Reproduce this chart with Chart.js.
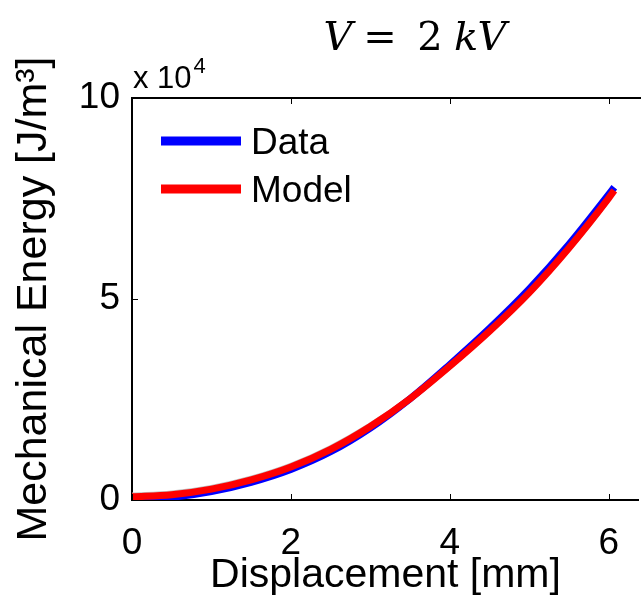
<!DOCTYPE html>
<html>
<head>
<meta charset="utf-8">
<script src="https://cdn.jsdelivr.net/npm/chart.js@4/dist/chart.umd.min.js"></script>
<style>
  html, body { margin: 0; padding: 0; background: #fff; }
  #wrap { width: 641px; height: 598px; position: relative; }
</style>
</head>
<body>
<div id="wrap"><canvas id="energyChart"></canvas></div>
<script>
// displacement in mm, energy in 10^4 J/m^3
const displacement = [0, 0.5, 1, 1.5, 2, 2.5, 3, 3.5, 4, 4.5, 5, 5.5, 6, 6.07];
const dataEnergy   = [0.02, 0.07, 0.21, 0.44, 0.76, 1.2, 1.79, 2.52, 3.37, 4.27, 5.25, 6.36, 7.6, 7.78];
const modelEnergy  = [0.08, 0.13, 0.27, 0.5, 0.82, 1.26, 1.83, 2.52, 3.33, 4.2, 5.16, 6.27, 7.51, 7.7];
const shadeEnergy  = [0.11, 0.16, 0.3, 0.53, 0.85, 1.29, 1.85, 2.53, 3.33, 4.2, 5.16, 6.27, 7.52, 7.76];
const xTicks = [0, 2, 4, 6];
const yTicks = [0, 5, 10];
const legendOrder = ['Data', 'Model'];

const font = "'Liberation Sans', Arial, sans-serif";

const toPoints = ys => displacement.map((x, i) => ({ x, y: ys[i] * 1e4 }));

const matlabBox = {
    id: 'matlabBox',
    afterDraw(chart) {
        const ctx = chart.ctx;
        const a = chart.chartArea;
        const xs = chart.scales.x, ys = chart.scales.y;
        ctx.save();
        ctx.strokeStyle = '#000';
        ctx.lineWidth = 2;
        // top border
        ctx.beginPath();
        ctx.moveTo(a.left, a.top);
        ctx.lineTo(chart.width, a.top);
        ctx.stroke();
        // inward ticks
        ctx.lineWidth = 1;
        ctx.beginPath();
        xTicks.forEach(v => {
            const px = Math.round(xs.getPixelForValue(v)) + 0.5;
            ctx.moveTo(px, a.bottom); ctx.lineTo(px, a.bottom - 6);
            ctx.moveTo(px, a.top); ctx.lineTo(px, a.top + 6);
        });
        yTicks.forEach(v => {
            const py = Math.round(ys.getPixelForValue(v * 1e4)) + 0.5;
            ctx.moveTo(a.left, py); ctx.lineTo(a.left + 6, py);
        });
        ctx.stroke();

        // legend
        ctx.font = '37px ' + font;
        ctx.textBaseline = 'alphabetic';
        ctx.fillStyle = '#000';
        legendOrder.forEach((name, i) => {
            const d = chart.data.datasets.find(ds => ds.label === name);
            const y = 141 + i * 48;
            ctx.strokeStyle = d.borderColor;
            ctx.lineWidth = 9;
            ctx.beginPath();
            ctx.moveTo(161, y); ctx.lineTo(241, y);
            ctx.stroke();
            ctx.fillText(d.label, 251, y + 13);
        });

        // exponent
        ctx.font = '31px ' + font;
        ctx.fillText('x 10', 133, 88);
        const w = ctx.measureText('x 10').width;
        ctx.font = '22px ' + font;
        ctx.fillText('4', 133 + w + 2, 73);

        // title
        const serif = "'DejaVu Serif', 'Liberation Serif', serif";
        ctx.textAlign = 'center';
        ctx.font = 'italic 40px ' + serif;
        ctx.fillText('V', 338, 50);
        ctx.font = '40px ' + serif;
        ctx.fillText('=', 380, 50);
        ctx.fillText('2', 430, 50);
        ctx.font = 'italic 40px ' + serif;
        ctx.fillText('k', 466, 50);
        ctx.fillText('V', 492, 50);
        ctx.restore();
    }
};

new Chart(document.getElementById('energyChart'), {
    type: 'line',
    data: {
        datasets: [
            {
                label: 'Model',
                data: toPoints(modelEnergy),
                borderColor: '#ff0000',
                borderWidth: 7,
                order: 0
            },
            {
                label: 'Data',
                data: toPoints(dataEnergy),
                borderColor: '#0000ff',
                borderWidth: 7,
                order: 1
            },
            {
                label: '',
                data: toPoints(shadeEnergy),
                borderColor: '#c0c0c0',
                borderWidth: 6,
                order: 2
            }
        ].map(d => Object.assign(d, {
            pointRadius: 0,
            fill: false,
            cubicInterpolationMode: 'monotone',
            borderCapStyle: 'butt'
        }))
    },
    options: {
        responsive: true,
        maintainAspectRatio: false,
        animation: false,
        layout: { padding: { top: 98, right: 0, left: 0, bottom: 0 } },
        plugins: {
            legend: { display: false },
            tooltip: { enabled: false }
        },
        scales: {
            x: {
                type: 'linear',
                min: 0,
                max: 6.38,
                afterBuildTicks: s => { s.ticks = xTicks.map(v => ({ value: v })); },
                afterFit: s => { s.height = 98; },
                grid: { display: false, drawTicks: false },
                border: { display: true, color: '#000', width: 2 },
                ticks: { color: '#000', font: { family: font, size: 37 }, padding: 22, maxRotation: 0 },
                title: {
                    display: true,
                    text: 'Displacement [mm]',
                    color: '#000',
                    font: { family: font, size: 41 },
                    padding: { top: 0, bottom: -2 }
                }
            },
            y: {
                min: 0,
                max: 1e5,
                afterBuildTicks: s => { s.ticks = yTicks.map(v => ({ value: v * 1e4 })); },
                afterFit: s => { s.width = 132; },
                grid: { display: false, drawTicks: false },
                border: { display: true, color: '#000', width: 2 },
                ticks: {
                    color: '#000',
                    font: { family: font, size: 37 },
                    padding: 12,
                    callback: v => String(Math.round(v / 1e4))
                },
                title: {
                    display: true,
                    text: 'Mechanical Energy [J/m³]',
                    color: '#000',
                    font: { family: font, size: 43 },
                    padding: { top: 8, bottom: 0 }
                }
            }
        }
    },
    plugins: [matlabBox]
});
</script>
</body>
</html>
